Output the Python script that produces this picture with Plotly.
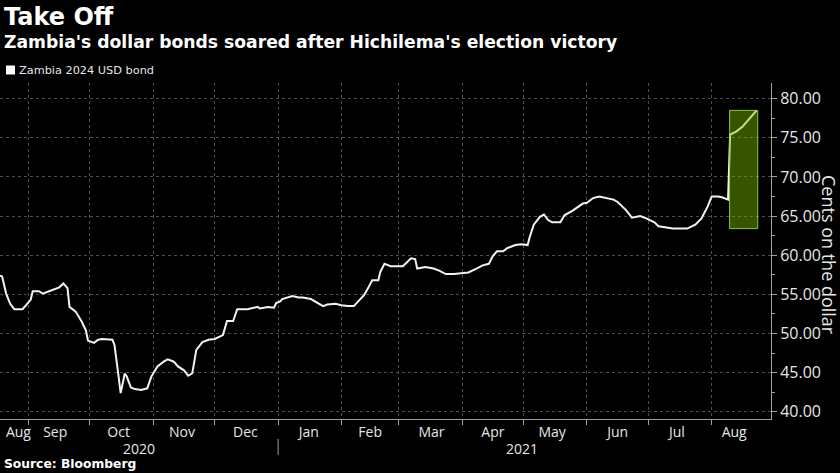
import plotly.graph_objects as go

# ---------------- data ----------------
dates = [
    "2020-08-18", "2020-08-19", "2020-08-21", "2020-08-23", "2020-08-25", "2020-08-29",
    "2020-09-02", "2020-09-03", "2020-09-06", "2020-09-08", "2020-09-11", "2020-09-15",
    "2020-09-16", "2020-09-18", "2020-09-20", "2020-09-21", "2020-09-24", "2020-09-27",
    "2020-09-29", "2020-09-30", "2020-10-03", "2020-10-05", "2020-10-07", "2020-10-12",
    "2020-10-13", "2020-10-15", "2020-10-16", "2020-10-18", "2020-10-19", "2020-10-21",
    "2020-10-23", "2020-10-26", "2020-10-29", "2020-10-31", "2020-11-03", "2020-11-06",
    "2020-11-08", "2020-11-11", "2020-11-13", "2020-11-16", "2020-11-18", "2020-11-20",
    "2020-11-22", "2020-11-25", "2020-11-28", "2020-12-01", "2020-12-05", "2020-12-07",
    "2020-12-10", "2020-12-12", "2020-12-17", "2020-12-22", "2020-12-23", "2020-12-27",
    "2020-12-30", "2020-12-31", "2021-01-02", "2021-01-03", "2021-01-06", "2021-01-08",
    "2021-01-11", "2021-01-13", "2021-01-17", "2021-01-20", "2021-01-23", "2021-01-25",
    "2021-01-29", "2021-02-01", "2021-02-04", "2021-02-07", "2021-02-09", "2021-02-12",
    "2021-02-14", "2021-02-16", "2021-02-19", "2021-02-20", "2021-02-22", "2021-02-25",
    "2021-03-03", "2021-03-05", "2021-03-07", "2021-03-09", "2021-03-10", "2021-03-14",
    "2021-03-18", "2021-03-21", "2021-03-24", "2021-03-28", "2021-04-01", "2021-04-04",
    "2021-04-08", "2021-04-11", "2021-04-14", "2021-04-16", "2021-04-18", "2021-04-21",
    "2021-04-23", "2021-04-27", "2021-04-30", "2021-05-03", "2021-05-04", "2021-05-06",
    "2021-05-09", "2021-05-11", "2021-05-13", "2021-05-15", "2021-05-19", "2021-05-21",
    "2021-05-25", "2021-05-27", "2021-05-30", "2021-06-01", "2021-06-04", "2021-06-07",
    "2021-06-11", "2021-06-14", "2021-06-16", "2021-06-20", "2021-06-23", "2021-06-27",
    "2021-06-30", "2021-07-04", "2021-07-06", "2021-07-09", "2021-07-13", "2021-07-16",
    "2021-07-20", "2021-07-24", "2021-07-27", "2021-07-30", "2021-08-01", "2021-08-04",
    "2021-08-06", "2021-08-09", "2021-08-10", "2021-08-13", "2021-08-16", "2021-08-18",
    "2021-08-20", "2021-08-21", "2021-08-23",
]
bond_price = [
    57.4, 57.3, 55.1, 53.8, 53.1, 53.1,
    54.3, 55.4, 55.4, 55.1, 55.4, 55.8,
    55.9, 56.4, 55.8, 53.4, 52.8, 51.5,
    50.4, 49.1, 48.8, 49.2, 49.3, 49.2,
    48.5, 44.5, 42.4, 44.9, 44.5, 43.1,
    42.9, 42.8, 43.0, 44.5, 45.8, 46.4,
    46.7, 46.4, 45.8, 45.3, 44.6, 44.9,
    47.9, 48.9, 49.2, 49.3, 49.8, 51.6,
    51.6, 53.1, 53.1, 53.4, 53.2, 53.4,
    53.3, 53.9, 54.1, 54.4, 54.6, 54.8,
    54.6, 54.6, 54.4, 54.0, 53.5, 53.7,
    53.8, 53.6, 53.5, 53.5, 54.1, 54.9,
    55.8, 56.8, 56.8, 57.9, 58.9, 58.6,
    58.6, 59.1, 59.6, 59.5, 58.3, 58.5,
    58.3, 58.0, 57.6, 57.6, 57.7, 57.8,
    58.3, 58.7, 58.9, 59.9, 60.5, 60.5,
    60.9, 61.3, 61.4, 61.3, 62.3, 63.9,
    64.9, 65.2, 64.5, 64.2, 64.2, 65.1,
    65.7, 66.1, 66.6, 66.7, 67.3, 67.5,
    67.3, 67.1, 66.8, 65.8, 64.8, 65.0,
    64.7, 64.2, 63.7, 63.6, 63.4, 63.4,
    63.4, 63.9, 64.7, 66.2, 67.5, 67.5,
    67.4, 67.1, 75.4, 75.8, 76.4, 77.0,
    77.6, 77.9, 78.5,
]

series_name = "Zambia 2024 USD bond"

month_label_dates = ["2020-08-27", "2020-09-14", "2020-10-15", "2020-11-15", "2020-12-16",
                     "2021-01-16", "2021-02-15", "2021-03-17", "2021-04-16", "2021-05-15",
                     "2021-06-16", "2021-07-15", "2021-08-12"]
month_labels = ["Aug", "Sep", "Oct", "Nov", "Dec", "Jan", "Feb", "Mar", "Apr", "May",
                "Jun", "Jul", "Aug"]
month_starts = ["2020-09-01", "2020-10-01", "2020-11-01", "2020-12-01", "2021-01-01",
                "2021-02-01", "2021-03-01", "2021-04-01", "2021-05-01", "2021-06-01",
                "2021-07-01", "2021-08-01"]
year_labels = ["2020", "2021"]
year_label_dates = ["2020-10-25", "2021-04-30"]
year_boundary = "2021-01-01"

y_ticks = [40, 45, 50, 55, 60, 65, 70, 75, 80]

x_range = ["2020-08-18", "2021-08-30"]
y_range = [39.08, 82.0]

highlight_x = ["2021-08-09 18:00", "2021-08-23 12:00"]
highlight_y = [63.4, 78.5]

# ---------------- figure ----------------
W, H = 840, 473
ML, MR, MT, MB = 0, 69, 83, 54
PH = H - MT - MB

def py(pix):
    """pixel row -> paper y"""
    return (H - MB - pix) / PH

def px(pix):
    return (pix - ML) / (W - ML - MR)

FONT = "Open Sans"
HFONT = "DejaVu Sans"
TXT = "#e6e6e6"
GRID = "#4d4d4d"
AX = "#a0a0a0"

fig = go.Figure()
fig.add_trace(go.Scatter(
    x=dates, y=bond_price, mode="lines", name=series_name,
    line=dict(color="#f2f2f2", width=2), showlegend=False,
))

fig.update_layout(
    width=W, height=H,
    paper_bgcolor="black", plot_bgcolor="black",
    margin=dict(l=ML, r=MR, t=MT, b=MB),
    font=dict(family=FONT, color=TXT),
    showlegend=False,
)

fig.update_xaxes(
    type="date", range=x_range,
    tickmode="array", tickvals=month_label_dates, ticktext=month_labels,
    ticks="", showgrid=False, zeroline=False,
    showline=True, linecolor=AX, linewidth=1,
    tickfont=dict(size=14, color=TXT, family=FONT),
    minor=dict(tickmode="array", tickvals=month_starts, ticks="outside", ticklen=5,
               tickcolor=AX, showgrid=True, gridcolor=GRID, griddash="dot", gridwidth=1),
)
fig.update_yaxes(
    side="right", range=y_range,
    tickmode="array", tickvals=y_ticks, tickformat=".2f",
    ticks="outside", ticklen=5, tickcolor=AX,
    showgrid=True, gridcolor=GRID, griddash="dot", gridwidth=1, zeroline=False,
    showline=True, linecolor=AX, linewidth=1,
    tickfont=dict(size=16, color=TXT, family=FONT),
    minor=dict(dtick=2.5, tick0=0, ticks="outside", ticklen=3, tickcolor=AX, showgrid=False),
)

# highlight box
fig.add_shape(type="rect", xref="x", yref="y", layer="above",
              x0=highlight_x[0], x1=highlight_x[1], y0=highlight_y[0], y1=highlight_y[1],
              fillcolor="rgba(130,200,0,0.42)", line=dict(color="rgba(160,210,70,0.9)", width=1))

# year separator
fig.add_shape(type="line", xref="x", yref="paper", x0=year_boundary, x1=year_boundary,
              y0=py(439), y1=py(455), line=dict(color=AX, width=1))

# legend swatch
fig.add_shape(type="rect", xref="paper", yref="paper",
              x0=px(6), x1=px(15), y0=py(74.5), y1=py(65.5),
              fillcolor="white", line=dict(width=0))

ann = []
ann.append(dict(text="<b>Take Off</b>", xref="paper", yref="paper", x=px(2), y=py(17),
                xanchor="left", yanchor="middle", showarrow=False,
                font=dict(size=24, color="white", family=HFONT)))
ann.append(dict(text="<b>Zambia's dollar bonds soared after Hichilema's election victory</b>",
                xref="paper", yref="paper", x=px(2), y=py(42),
                xanchor="left", yanchor="middle", showarrow=False,
                font=dict(size=17.2, color="white", family=HFONT)))
ann.append(dict(text=series_name, xref="paper", yref="paper", x=px(17), y=py(70.5),
                xanchor="left", yanchor="middle", showarrow=False,
                font=dict(size=11.3, color=TXT, family=HFONT)))
ann.append(dict(text="<b>Source: Bloomberg</b>", xref="paper", yref="paper", x=px(2), y=py(464),
                xanchor="left", yanchor="middle", showarrow=False,
                font=dict(size=12.3, color="white", family=HFONT)))
ann.append(dict(text="Cents on the dollar", xref="paper", yref="paper", x=px(829), y=py(255),
                xanchor="center", yanchor="middle", showarrow=False, textangle=90,
                font=dict(size=18, color=TXT, family=FONT)))
for lbl, d in zip(year_labels, year_label_dates):
    ann.append(dict(text=lbl, xref="x", yref="paper", x=d, y=py(448),
                    xanchor="center", yanchor="middle", showarrow=False,
                    font=dict(size=14, color=TXT, family=FONT)))
fig.update_layout(annotations=ann)

fig.write_html("out.html")
